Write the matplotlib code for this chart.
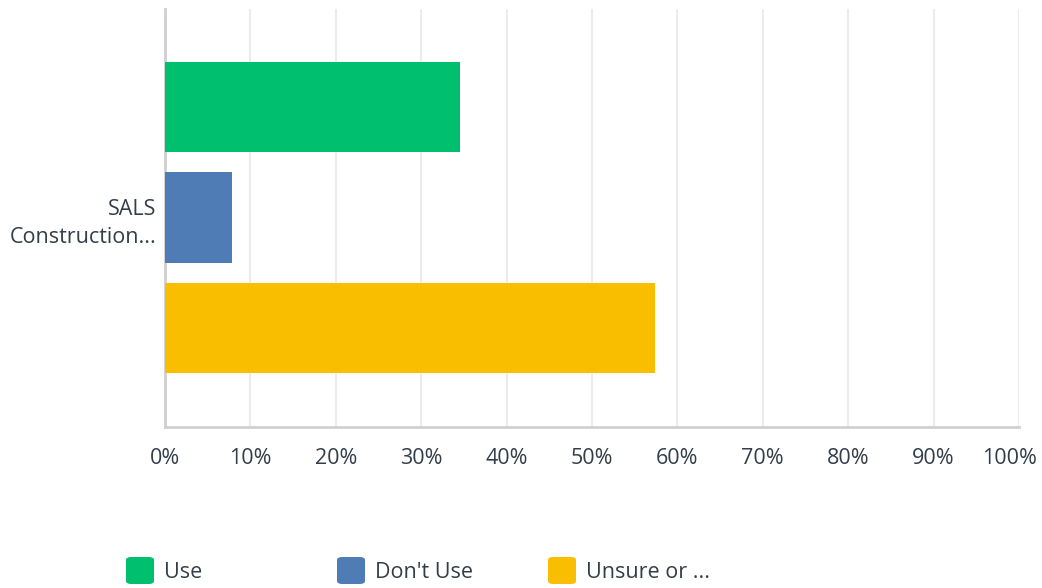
import matplotlib.pyplot as plt
import matplotlib.transforms as mtransforms
from matplotlib.patches import FancyBboxPatch

plt.rcParams['font.family'] = ['Open Sans', 'DejaVu Sans']

category = "SALS\nConstruction..."
series = ["Use", "Don't Use", "Unsure or ..."]
values = [34.5, 7.8, 57.4]
colors = ["#00bf6f", "#507cb6", "#f9be00"]
ticks = list(range(0, 101, 10))
tick_labels = [f"{t}%" for t in ticks]
text_color = "#333e48"

W, H = 1042, 588
fig = plt.figure(figsize=(W / 100, H / 100), dpi=100)
ax = fig.add_axes([165 / W, (H - 427) / H, 854 / W, 418 / H])

ypos = list(range(len(series)))
ax.barh(ypos, values, height=0.82, color=colors, zorder=3)
ax.set_xlim(0, 100)
ax.set_ylim(2.895, -0.887)

ax.set_xticks(ticks)
ax.set_xticklabels(tick_labels, fontsize=15.5, color=text_color)
ax.tick_params(axis='x', length=0, pad=15)
# last label is pulled in so it stays inside the canvas
last = ax.get_xticklabels()[-1]
last.set_transform(last.get_transform() + mtransforms.ScaledTranslation(
    -10 / 100, 0, fig.dpi_scale_trans))
ax.set_yticks([1])
ax.set_yticklabels([category], fontsize=15.5, color=text_color,
                   ha='right', linespacing=1.45)
ax.tick_params(axis='y', length=0, pad=6)
ax.grid(axis='x', color="#ececec", linewidth=1.5, zorder=0)
for side in ('top', 'right'):
    ax.spines[side].set_visible(False)
ax.spines['left'].set_color("#cfcfcf")
ax.spines['left'].set_linewidth(2)
ax.spines['bottom'].set_color("#d0d0d0")
ax.spines['bottom'].set_linewidth(2)

# legend drawn by hand to get the wide, evenly spaced columns
for i, (name, col) in enumerate(zip(series, colors)):
    x0 = 126 + i * 211
    box = FancyBboxPatch((x0 / W, (H - 584) / H), 28 / W, 27 / H,
                         boxstyle="round,pad=0,rounding_size=0.005",
                         transform=fig.transFigure, facecolor=col,
                         edgecolor='none')
    fig.patches.append(box)
    fig.text((x0 + 38) / W, (H - 573) / H, name, fontsize=15.5,
             color=text_color, va='center', ha='left')

fig.savefig("out.png", dpi=100)
